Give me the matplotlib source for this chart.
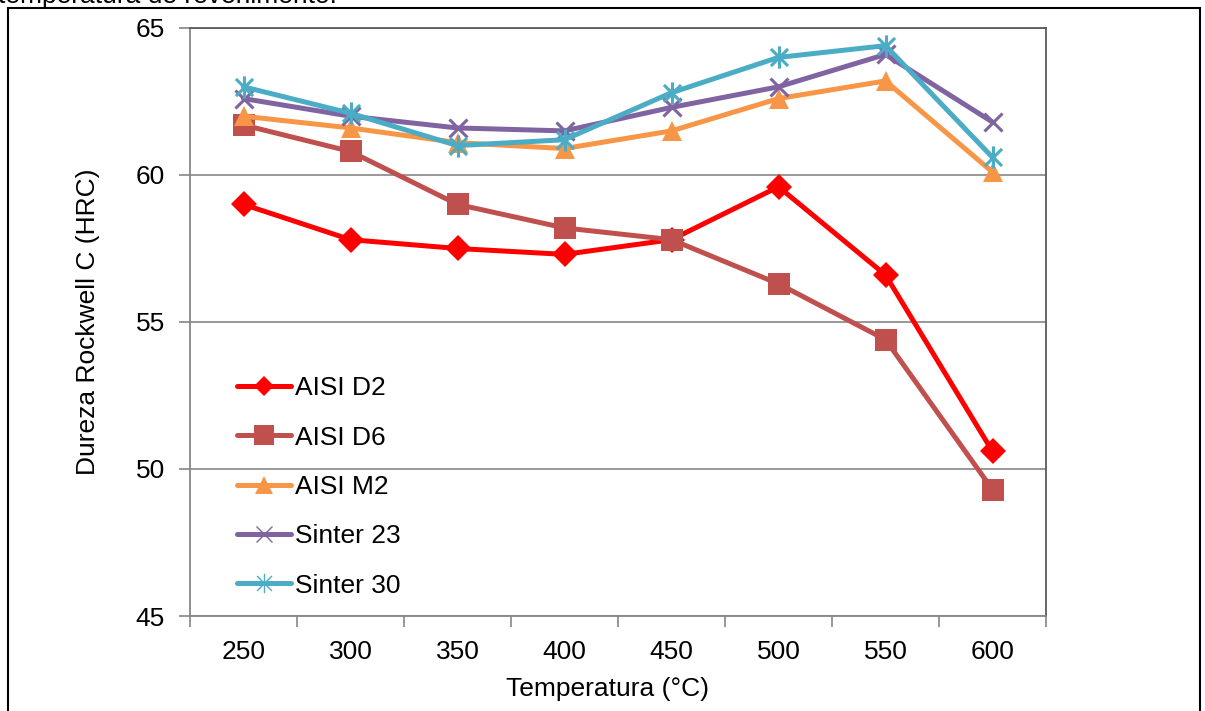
import matplotlib
matplotlib.use("Agg")
import matplotlib.pyplot as plt
from matplotlib.path import Path
from matplotlib.patches import Rectangle
from matplotlib.lines import Line2D

plt.rcParams['font.family'] = ['Liberation Sans', 'DejaVu Sans']

temps = [250, 300, 350, 400, 450, 500, 550, 600]
aisi_d2 = [59.0, 57.8, 57.5, 57.3, 57.8, 59.6, 56.6, 50.6]
aisi_d6 = [61.7, 60.8, 59.0, 58.2, 57.8, 56.3, 54.4, 49.3]
aisi_m2 = [62.0, 61.6, 61.1, 60.9, 61.5, 62.6, 63.2, 60.1]
sinter23 = [62.6, 62.0, 61.6, 61.5, 62.3, 63.0, 64.1, 61.8]
sinter30 = [63.0, 62.1, 61.0, 61.2, 62.8, 64.0, 64.4, 60.6]
labels = ["AISI D2", "AISI D6", "AISI M2", "Sinter 23", "Sinter 30"]
yticks = [45, 50, 55, 60, 65]

# asterisk marker: x plus vertical line
ast = Path([(-1, -1), (1, 1), (-1, 1), (1, -1), (0, -1.3), (0, 1.3)],
           [Path.MOVETO, Path.LINETO, Path.MOVETO, Path.LINETO, Path.MOVETO, Path.LINETO])

series = [
    (aisi_d2, '#FF0000', 'D', 13.5, 0, 10),
    (aisi_d6, '#C0504D', 's', 16, 0, 15),
    (aisi_m2, '#F79646', '^', 15, 0, 13),
    (sinter23, '#8064A2', 'x', 13.5, 2.2, 12),
    (sinter30, '#4BACC6', ast, 16, 2.2, 14),
]

FS = 19
W, H = 1205, 711
fig = plt.figure(figsize=(W / 100, H / 100), dpi=100)
ax = fig.add_axes([190 / W, 1 - 616 / H, (1046 - 190) / W, (616 - 28) / H])

x = list(range(len(temps)))
handles = []
for (vals, col, mk, ms, mew, lms), lab in zip(series, labels):
    kw = dict(color=col, lw=3.6, marker=mk, markersize=ms, markerfacecolor=col,
              markeredgecolor=col, solid_capstyle='round', solid_joinstyle='round',
              markeredgewidth=mew)
    ax.plot(x, vals, label=lab, zorder=3, **kw)
    hkw = dict(kw)
    hkw['markersize'] = lms
    if mew:
        hkw['markeredgewidth'] = 1.0
    handles.append(Line2D([0], [0], **hkw))

ax.set_xlim(-0.5, len(temps) - 0.5)
ax.set_ylim(45, 65)
ax.set_yticks(yticks)
ax.set_yticklabels([str(v) for v in yticks])
ax.set_xticks(x)
ax.set_xticklabels([str(t) for t in temps])
ax.set_xticks([i - 0.5 for i in range(len(temps) + 1)], minor=True)
ax.tick_params(axis='x', which='major', length=0, pad=17, labelsize=FS)
ax.tick_params(axis='x', which='minor', length=8, color='#868686', width=1.2, direction='out')
ax.tick_params(axis='y', which='major', length=8, color='#868686', width=1.2, pad=10, labelsize=FS)
ax.yaxis.grid(True, color='#868686', lw=1.2)
ax.set_axisbelow(True)
for s in ax.spines.values():
    s.set_color('#868686')
    s.set_linewidth(1.3)
ax.spines['top'].set_color('#5a5a5a')
ax.spines['right'].set_color('#5a5a5a')

leg = ax.legend(handles, labels, loc='center left',
                bbox_to_anchor=(237 / W, 1 - 487 / H), bbox_transform=fig.transFigure,
                frameon=False, fontsize=FS, handlelength=2.05, handletextpad=0.15,
                labelspacing=0.96, borderpad=0, borderaxespad=0)

fig.text(88 / W, 1 - 322 / H, "Dureza Rockwell C (HRC)", rotation=90,
         ha='center', va='center', fontsize=FS)
fig.text(608 / W, 1 - 689 / H, "Temperatura (°C)", ha='center', va='center', fontsize=FS)

# outer frame and caption cut off at the top edge, as in the source image
fig.patches.append(Rectangle((8 / W, -0.1), (1200 - 8) / W, 1.1 - 8 / H, transform=fig.transFigure,
                             fill=False, edgecolor='black', lw=1.5))
fig.text(-2 / W, 1 - 3 / H, "temperatura de revenimento.", ha='left', va='baseline', fontsize=FS)

fig.savefig("out.png", dpi=100)
